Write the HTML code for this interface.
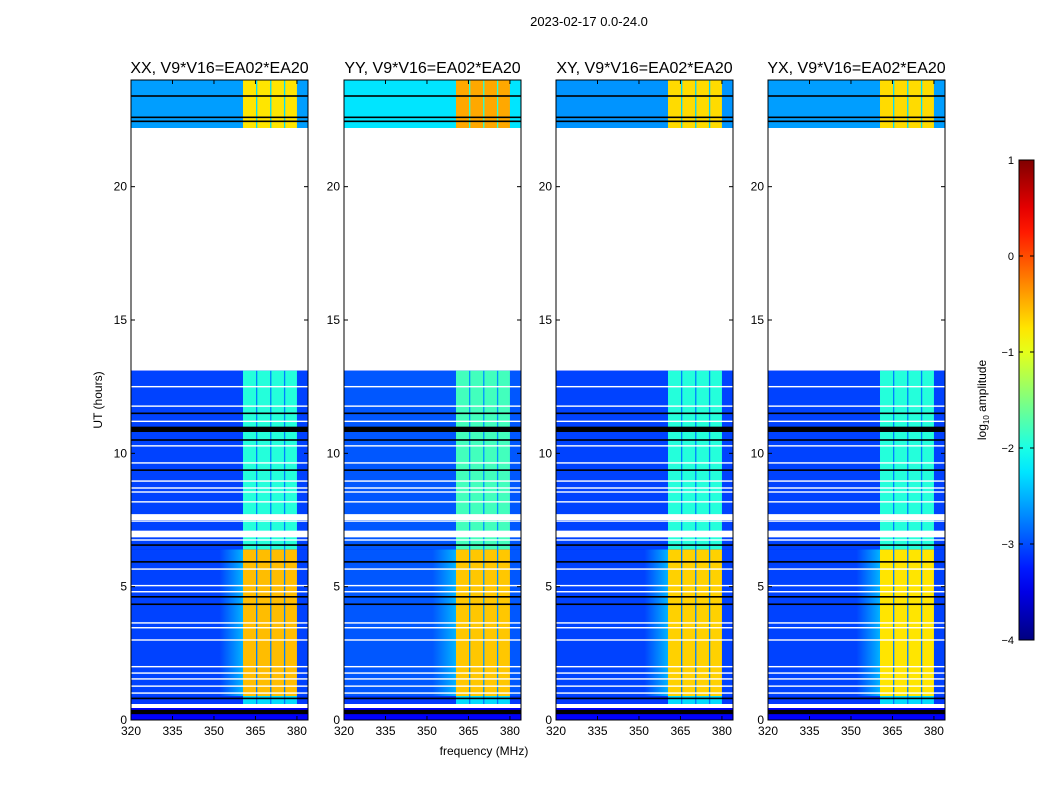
<!DOCTYPE html>
<html><head><meta charset="utf-8">
<style>
html,body{margin:0;padding:0;background:#fff;}
svg{display:block;font-family:"Liberation Sans","DejaVu Sans",sans-serif;}
</style></head>
<body>
<svg id="fig" width="1050" height="800" viewBox="0 0 1050 800" xmlns="http://www.w3.org/2000/svg">
<rect x="0" y="0" width="1050" height="800" fill="#fff"/>
<text x="589" y="26" font-size="13" text-anchor="middle">2023-02-17 0.0-24.0</text>
<text x="0" y="0" font-size="12" text-anchor="middle" transform="translate(102,400) rotate(-90)">UT (hours)</text>
<text x="484" y="755" font-size="12" text-anchor="middle">frequency (MHz)</text>
<defs id="gdefs"></defs>
<g id="panels"></g>
<g id="cbar"></g>
<text x="0" y="0" font-size="12" text-anchor="middle" transform="translate(986,400) rotate(-90)">log<tspan font-size="8" dy="3">10</tspan><tspan dy="-3"> amplitude</tspan></text>
</svg>
<script>
const panelTitles = ["XX, V9*V16=EA02*EA20","YY, V9*V16=EA02*EA20","XY, V9*V16=EA02*EA20","YX, V9*V16=EA02*EA20"];
const panelLeft = [131,344,556,768];
const xTicks = [320,335,350,365,380];
const yTicks = [0,5,10,15,20];
const dataRanges = [[0,13.1],[22.2,24]];
const timeSegs = [[0.55,0.9],[0.9,6.4],[6.4,13.1],[22.2,24]];
const bgLevels = [[-3.1,-3.05,-3.05,-2.6],[-3.1,-2.95,-2.95,-2.25],[-3.1,-3.05,-3.05,-2.65],[-3.1,-3.05,-3.05,-2.6]];
const bandLevels = [[-2.3,-0.55,-1.95,-0.75],[-2.3,-0.6,-1.8,-0.45],[-2.3,-0.65,-1.95,-0.7],[-2.3,-0.75,-1.95,-0.7]];
const rampLevels = [-2.5,-2.5,-2.5,-2.5];
const rampStart = 352;
const bandRange = [360.5,380];
const bandGaps = [365.2,370.3,375.3];
const whiteLines = [12.5,11.77,11.2,10.28,9.64,8.96,8.7,8.55,8.18,7.62,7.46,7.06,6.75,5.66,5.04,4.81,3.64,3.46,3.0,2.0,1.76,1.54,1.27,1.01];
const whiteThick = [[7.5,7.72],[6.85,7.1],[0.45,0.6]];
const blackLines = [11.5,10.9,10.83,10.5,9.37,6.56,5.93,4.62,4.34,0.81,23.4,22.6,22.45];
const blackThick = [[0.22,0.38],[10.85,11.0]];
const cbTicks = [1,0,-1,-2,-3,-4];

const NS="http://www.w3.org/2000/svg";
const W=177, T=80, B=720, fMin=320, fMax=384, hMax=24;
function xs(f,px){return px+(f-fMin)/(fMax-fMin)*W;}
function ys(h){return B-h/hMax*(B-T);}
function jet(v){
  let t=(v+4)/5; t=Math.max(0,Math.min(1,t));
  const c=x=>Math.round(255*Math.max(0,Math.min(1,x)));
  const r=1.5-Math.abs(4*t-3), g=1.5-Math.abs(4*t-2), b=1.5-Math.abs(4*t-1);
  return `rgb(${c(r)},${c(g)},${c(b)})`;
}
function el(tag,attrs,parent){const e=document.createElementNS(NS,tag);for(const k in attrs)e.setAttribute(k,attrs[k]);parent.appendChild(e);return e;}
const panels=document.getElementById('panels');
const gdefs=document.getElementById('gdefs');
panelLeft.forEach((px,pi)=>{
  const g=el('g',{},panels);
  
  
  dataRanges.forEach(r=>{
    const rc=el('rect',{x:px,y:ys(r[1]),width:W,height:ys(r[0])-ys(r[1]),fill:jet(-3.4)},g);
    
    
  });
  const gid='ramp'+pi;
  const lg=el('linearGradient',{id:gid,x1:0,y1:0,x2:1,y2:0},gdefs);
  el('stop',{offset:0,'stop-color':jet(bgLevels[pi][1])},lg);
  el('stop',{offset:1,'stop-color':jet(rampLevels[pi])},lg);
  timeSegs.forEach((s,si)=>{
    const y0=ys(s[1]),h=ys(s[0])-ys(s[1]);
    const bg=el('rect',{x:px,y:y0,width:W,height:h,fill:jet(bgLevels[pi][si])},g);
    
    
    if(si===1){
      const rp=el('rect',{x:xs(rampStart,px),y:y0,width:xs(bandRange[0],px)-xs(rampStart,px),height:h,fill:'url(#'+gid+')'},g);
      
      
    }
    const bd=el('rect',{x:xs(bandRange[0],px),y:y0,width:xs(bandRange[1],px)-xs(bandRange[0],px),height:h,fill:jet(bandLevels[pi][si])},g);
    
    
    bandGaps.forEach(gf=>{
      const gp=el('rect',{x:xs(gf,px),y:y0,width:1.3,height:h,fill:jet(bgLevels[pi][si]+0.3)},g);
      
      
    });
  });
  whiteLines.forEach(h=>{
    const l=el('rect',{x:px,y:ys(h)-0.7,width:W,height:1.4,fill:'#fff'},g);
    
    
  });
  whiteThick.forEach(r=>{
    const l=el('rect',{x:px,y:ys(r[1]),width:W,height:ys(r[0])-ys(r[1]),fill:'#fff'},g);
    
    
  });
  blackLines.forEach(h=>{
    const l=el('rect',{x:px,y:ys(h)-0.8,width:W,height:1.6,fill:'#000'},g);
    
    
  });
  blackThick.forEach(r=>{
    const l=el('rect',{x:px,y:ys(r[1]),width:W,height:ys(r[0])-ys(r[1]),fill:'#000'},g);
    
    
  });
  const fr=el('rect',{x:px,y:T,width:W,height:B-T,fill:'none',stroke:'#000','stroke-width':1},g);
  
  
  const tt=el('text',{x:px+W/2,y:T-7,'font-size':16,'text-anchor':'middle'},g);
  tt.textContent=panelTitles[pi];
  
  
  xTicks.forEach(f=>{
    const x=xs(f,px);
    el('line',{x1:x,x2:x,y1:B,y2:B-4,stroke:'#000'},g);
    el('line',{x1:x,x2:x,y1:T,y2:T+4,stroke:'#000'},g);
    const t=el('text',{x:x,y:B+15,'font-size':12,'text-anchor':'middle'},g);
    t.textContent=f;
    
    
  });
  yTicks.forEach(h=>{
    const y=ys(h);
    el('line',{x1:px,x2:px+4,y1:y,y2:y,stroke:'#000'},g);
    el('line',{x1:px+W,x2:px+W-4,y1:y,y2:y,stroke:'#000'},g);
    const t=el('text',{x:px-4,y:y+4,'font-size':12,'text-anchor':'end'},g);
    t.textContent=h;
    
    
  });
});
const cb=document.getElementById('cbar');
const cbX=1019,cbW=15,cbT=160,cbB=640;
const defs=el('defs',{},cb);
const lg=el('linearGradient',{id:'jetg',x1:0,y1:1,x2:0,y2:0},defs);
for(let i=0;i<=20;i++){el('stop',{offset:i/20,'stop-color':jet(-4+5*i/20)},lg);}
el('rect',{x:cbX,y:cbT,width:cbW,height:cbB-cbT,fill:'url(#jetg)',stroke:'#000','stroke-width':1},cb);
cbTicks.forEach(v=>{
  const y=cbB-(v+4)/5*(cbB-cbT);
  el('line',{x1:cbX,x2:cbX+4,y1:y,y2:y,stroke:'#000'},cb);
  el('line',{x1:cbX+cbW,x2:cbX+cbW-4,y1:y,y2:y,stroke:'#000'},cb);
  const t=el('text',{x:cbX-5,y:y+4,'font-size':11,'text-anchor':'end'},cb);
  t.textContent=v<0?'\u2212'+(-v):String(v);
  
  
});
</script>
</body></html>
